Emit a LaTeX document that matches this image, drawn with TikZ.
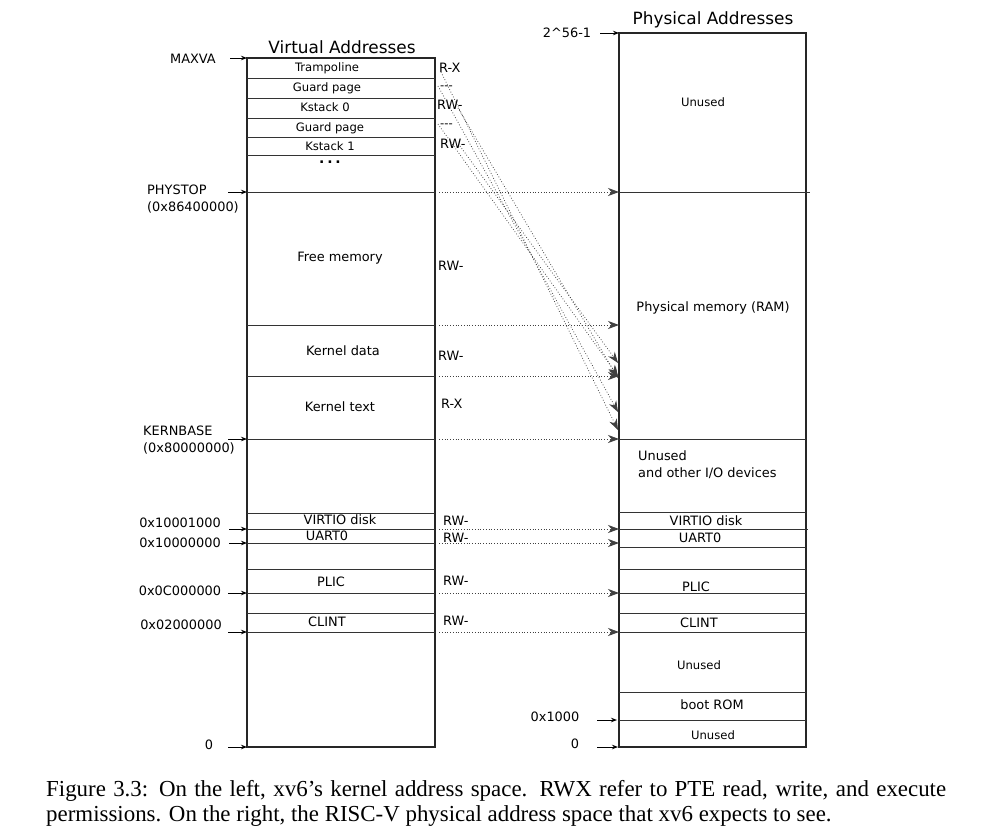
\documentclass[tikz,border=0pt]{standalone}
\usepackage{fontspec}
\setmainfont{DejaVu Sans}
\newfontfamily\capfont{Liberation Serif}
\usetikzlibrary{arrows.meta}
\begin{document}
\begin{tikzpicture}[x=1pt,y=-1pt,
  box/.style={line width=1.1pt, draw=black!85},
  sepl/.style={line width=0.8pt, draw=black!80},
  lbl/.style={inner sep=0pt, font=\fontsize{12.9}{15}\selectfont},
  slbl/.style={inner sep=0pt, font=\fontsize{11.6}{13}\selectfont},
  ttl/.style={inner sep=0pt, font=\fontsize{16.9}{19}\selectfont},
  captext/.style={inner sep=0pt, anchor=base west, font=\capfont\fontsize{22.9}{26}\selectfont},
  addr/.style={-{Stealth[length=6pt,width=4.5pt]}, line width=0.9pt},
  map/.style={dotted, line width=0.75pt, draw=black!75, -{Stealth[length=11pt,width=8pt,inset=3.5pt]}},
]
\useasboundingbox (0,0) rectangle (988,831);
\fill[white] (0,0) rectangle (988,831);

% ---------- boxes ----------
\draw[box] (247,58) rectangle (435,747);
\foreach \yy in {78,98,118,137,155,192,325,376,439,513,529,543,569,593,613,632}
  \draw[sepl] (247,\yy) -- (435,\yy);
\draw[box] (619,33) rectangle (806,747);
\draw[sepl] (619,192) -- (810,192);
\draw[sepl] (619,529) -- (808,529);
\foreach \yy in {439,512,547,569,593,613,632,692,720}
  \draw[sepl] (619,\yy) -- (806,\yy);

% ---------- titles ----------
\node[ttl] (tva) at (342,47) {Virtual Addresses};
\node[ttl] (tpa) at (713,20) {Physical Addresses};

% ---------- virtual cells ----------
\node[slbl] (cTramp) at (327,68) {Trampoline};
\node[slbl] (cGuard0) at (327,88) {Guard page};
\node[slbl] (cKs0) at (325,107) {Kstack 0};
\node[slbl] (cGuard1) at (330,128) {Guard page};
\node[slbl] (cKs1) at (330,146) {Kstack 1};
\node[inner sep=0pt, text height=3pt, text depth=0pt, font=\fontsize{14}{14}\bfseries] (cDots) at (330,162) {.\hspace{2.8pt}.\hspace{2.8pt}.};
\node[lbl] (cFree) at (340,258) {Free memory};
\node[lbl] (cKdata) at (343,351) {Kernel data};
\node[lbl] (cKtext) at (340,407) {Kernel text};
\node[lbl] (cVirtio) at (340,520) {VIRTIO disk};
\node[lbl] (cUart) at (327,536) {UART0};
\node[lbl] (cPlic) at (331,582) {PLIC};
\node[lbl] (cClint) at (327,622) {CLINT};

% ---------- permissions ----------
\node[lbl, anchor=west] (pTramp) at (439,68) {R-X};
\node[slbl, anchor=west] (pGuard0) at (440,88) {{-}{-}{-}};
\node[lbl, anchor=west] (pKs0) at (437,105) {RW-};
\node[slbl, anchor=west] (pGuard1) at (440,126) {{-}{-}{-}};
\node[lbl, anchor=west] (pKs1) at (440,144) {RW-};
\node[lbl, anchor=west] (pFree) at (438,266) {RW-};
\node[lbl, anchor=west] (pKdata) at (438,356) {RW-};
\node[lbl, anchor=west] (pKtext) at (441,404) {R-X};
\node[lbl, anchor=west] (pVirtio) at (443,521) {RW-};
\node[lbl, anchor=west] (pUart) at (443,538) {RW-};
\node[lbl, anchor=west] (pPlic) at (443,581) {RW-};
\node[lbl, anchor=west] (pClint) at (443,621) {RW-};

% ---------- physical cells ----------
\node[slbl] (qUnused1) at (703,102) {Unused};
\node[lbl] (qRam) at (713,308) {Physical memory (RAM)};
\node[lbl, anchor=west] (qIo1) at (638,456) {Unused};
\node[lbl, anchor=west] (qIo2) at (638,473) {and other I/O devices};
\node[lbl] (qVirtio) at (706,521) {VIRTIO disk};
\node[lbl] (qUart) at (700,538) {UART0};
\node[lbl] (qPlic) at (696,587) {PLIC};
\node[lbl] (qClint) at (699,623) {CLINT};
\node[slbl] (qUnused2) at (699,665) {Unused};
\node[lbl] (qRom) at (712,705) {boot ROM};
\node[slbl] (qUnused3) at (713,735) {Unused};

% ---------- address labels ----------
\node[lbl] (aMaxva) at (193,59) {MAXVA};
\node[lbl, anchor=west] (aPhystop) at (147,190) {PHYSTOP};
\node[lbl, anchor=west] (aPhystopV) at (147,207) {(0x86400000)};
\node[lbl, anchor=west] (aKern) at (143,431) {KERNBASE};
\node[lbl, anchor=west] (aKernV) at (143,448) {(0x80000000)};
\node[lbl] (aVirtio) at (180,523) {0x10001000};
\node[lbl] (aUart) at (180,543) {0x10000000};
\node[lbl] (aPlic) at (180,591) {0x0C000000};
\node[lbl] (aClint) at (181,625) {0x02000000};
\node[lbl] (aZero) at (209,745) {0};
\node[lbl] (bTop) at (567,33) {2\^{}56-1};
\node[lbl] (bRom) at (555,717) {0x1000};
\node[lbl] (bZero) at (575,744) {0};

% ---------- arrow end coordinates ----------
\coordinate (sMaxva) at (230,58);   \coordinate (vMaxva) at (247,58);
\coordinate (sPhystop) at (228,192);\coordinate (vPhystop) at (247,192);
\coordinate (sKern) at (228,439);   \coordinate (vKern) at (247,439);
\coordinate (sVirtio) at (229,529); \coordinate (vVirtio) at (247,529);
\coordinate (sUart) at (229,543);   \coordinate (vUart) at (247,543);
\coordinate (sPlic) at (228,593);   \coordinate (vPlic) at (247,593);
\coordinate (sClint) at (228,632);  \coordinate (vClint) at (247,632);
\coordinate (sZero) at (228,747);   \coordinate (vZero) at (247,747);
\coordinate (sTop) at (600,33);     \coordinate (wTop) at (619,33);
\coordinate (sRom) at (597,720);    \coordinate (wRom) at (617,720);
\coordinate (sPZero) at (597,747);  \coordinate (wZero) at (618,747);

\foreach \a/\b in {sMaxva/vMaxva,sPhystop/vPhystop,sKern/vKern,sVirtio/vVirtio,sUart/vUart,sPlic/vPlic,sClint/vClint,sZero/vZero,sTop/wTop,sRom/wRom,sPZero/wZero}
  \draw[addr] (\a) -- (\b);

% ---------- horizontal mappings ----------
\foreach \yy in {192,325,376,439,529,543,593,632} {
  \coordinate (m\yy) at (439,\yy);
  \coordinate (n\yy) at (619,\yy);
  \draw[map] (m\yy) -- (n\yy);
}

% ---------- diagonal mappings ----------
\coordinate (d1s) at (441,72);  \coordinate (d1e) at (618,430);
\coordinate (d2s) at (438,86);  \coordinate (d2e) at (618,412);
\coordinate (d3s) at (458,108); \coordinate (d3e) at (618,378);
\coordinate (d4s) at (438,124); \coordinate (d4e) at (618,376);
\coordinate (d5s) at (460,146); \coordinate (d5e) at (618,363);
\foreach \i in {1,...,5}
  \draw[map] (d\i s) -- (d\i e);

% ---------- caption ----------
\node[captext] (cap1) at (46,796) {\makebox[900pt][s]{Figure 3.3: On the left, xv6’s kernel address space. RWX refer to PTE read, write, and execute}};
\node[captext] (cap2) at (46,821) {permissions. On the right, the RISC-V physical address space that xv6 expects to see.};
\end{tikzpicture}
\end{document}
